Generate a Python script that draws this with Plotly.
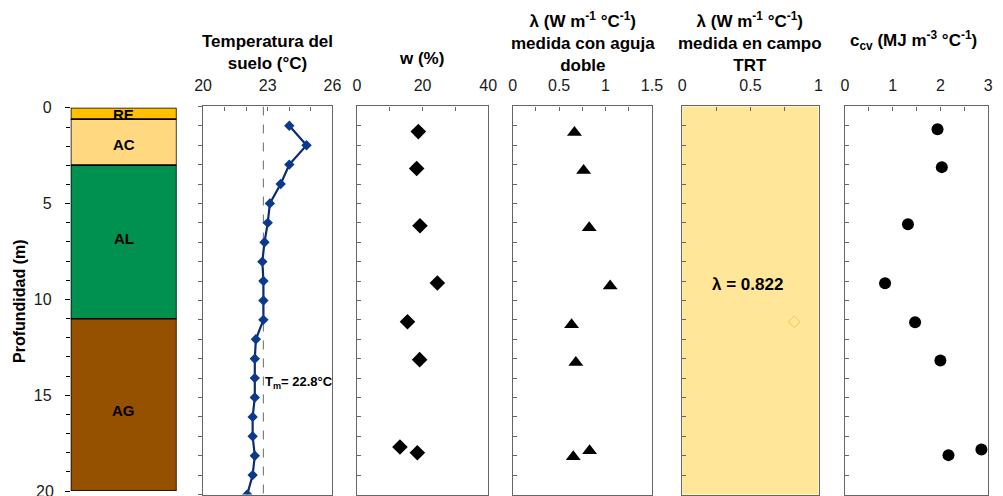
import plotly.graph_objects as go

# ---------------- data ----------------
layer_names = ["RE", "AC", "AL", "AG"]
layer_top = [0.0, 0.6, 3.0, 11.0]
layer_bottom = [0.6, 3.0, 11.0, 20.0]
layer_label_depth = [0.35, 1.9, 6.8, 15.8]
layer_colors = ["#FFC000", "#FFD880", "#00904F", "#955000"]
depth_ticks = [0, 5, 10, 15, 20]

temp_depth = list(range(1, 21))
temp_values = [24.0, 24.8, 24.0, 23.6, 23.1, 23.0, 22.85, 22.75, 22.8, 22.8,
               22.8, 22.45, 22.4, 22.4, 22.4, 22.3, 22.3, 22.4, 22.3, 22.05]
T_M = 22.8

w_depth = [1.3, 3.2, 6.15, 9.1, 11.1, 13.05, 17.55, 17.85]
w_values = [18.7, 18.2, 19.2, 24.5, 15.4, 19.1, 13.1, 18.4]

lam_depth = [1.35, 3.3, 6.25, 9.25, 11.25, 13.2, 17.75, 18.05]
lam_values = [0.665, 0.764, 0.824, 1.05, 0.634, 0.68, 0.828, 0.652]

LAMBDA_TRT = 0.822
trt_depth = [11.1]

ccv_depth = [1.18, 3.13, 6.07, 9.11, 11.12, 13.09, 17.68, 17.97]
ccv_values = [1.94, 2.03, 1.32, 0.84, 1.47, 2.0, 2.86, 2.17]

# ---------------- layout helpers ----------------
W, H = 1003, 496
def px_x(a, b):
    return [a / W, b / W]
def px_y(top, bottom):
    return [1 - bottom / H, 1 - top / H]

FONT = "Liberation Sans, Arial, sans-serif"
FRAME = "#666666"
tickfont = dict(size=16, color="#1a1a1a", family=FONT)

fig = go.Figure()

# stratigraphy column
for name, top, bot, col in zip(layer_names, layer_top, layer_bottom, layer_colors):
    fig.add_trace(go.Bar(x=[0], y=[bot - top], base=[top], width=1.0,
                         marker=dict(color=col, line=dict(color="black", width=1.5)),
                         xaxis="x", yaxis="y", showlegend=False, hoverinfo="skip"))
for name, d in zip(layer_names, layer_label_depth):
    fig.add_annotation(x=0, y=d, xref="x", yref="y", text="<b>" + name + "</b>",
                       showarrow=False, font=dict(size=15, color="black", family=FONT))
# last depth label sits on the figure's bottom edge (partly cut, as in the original)
fig.add_annotation(x=48 / W, y=depth_ticks[-1], xref="paper", yref="y",
                   text=str(depth_ticks[-1]), showarrow=False,
                   xanchor="right", yanchor="middle", font=tickfont)

# temperature
fig.add_trace(go.Scatter(x=[T_M, T_M], y=[0, 20], mode="lines",
                         line=dict(color="#7f7f7f", width=1.2, dash="dash"),
                         xaxis="x2", yaxis="y2", showlegend=False))
fig.add_trace(go.Scatter(x=temp_values, y=temp_depth, mode="lines+markers",
                         line=dict(color="#0B2C74", width=2.2),
                         marker=dict(symbol="diamond", size=8, color="#0B3A8C"),
                         xaxis="x2", yaxis="y2", showlegend=False))
fig.add_annotation(x=T_M, y=14.25, xref="x2", yref="y2", xanchor="left", xshift=0,
                   text="<b>T<sub>m</sub>= %.1f°C</b>" % T_M, showarrow=False,
                   font=dict(size=13, color="black", family=FONT))

# w
fig.add_trace(go.Scatter(x=w_values, y=w_depth, mode="markers",
                         marker=dict(symbol="diamond", size=12, color="black"),
                         xaxis="x3", yaxis="y3", showlegend=False))
# lambda needle
fig.add_trace(go.Scatter(x=lam_values, y=lam_depth, mode="markers",
                         marker=dict(symbol="triangle-up", size=13, color="black"),
                         xaxis="x4", yaxis="y4", showlegend=False))
# TRT
fig.add_shape(type="rect", xref="x5 domain", yref="y5 domain", x0=0, x1=1, y0=0, y1=1,
              fillcolor="#FFE699", line=dict(width=0), layer="below")
fig.add_trace(go.Scatter(x=[LAMBDA_TRT] * len(trt_depth), y=trt_depth, mode="markers",
                         marker=dict(symbol="diamond-open", size=9, color="#EAC864",
                                     line=dict(width=1)),
                         xaxis="x5", yaxis="y5", showlegend=False))
fig.add_annotation(x=0.475, y=9.2, xref="x5", yref="y5",
                   text="<b>λ = %.3f</b>" % LAMBDA_TRT, showarrow=False,
                   font=dict(size=17, color="black", family=FONT))
# ccv
fig.add_trace(go.Scatter(x=ccv_values, y=ccv_depth, mode="markers",
                         marker=dict(symbol="circle", size=12, color="black"),
                         xaxis="x6", yaxis="y6", showlegend=False))

# axes
panels = [
    # (domain px, range, dtick major, minor)
    ((198, 330), [20, 26], 3, 1),
    ((355, 489), [0, 40], 20, 10),
    ((514, 656), [0, 1.5], 0.5, 0.25),
    ((687, 826), [0, 1], 0.5, 0.25),
    ((853, 999), [0, 3], 1, 0.5),
]
lay = dict(
    width=W, height=H, margin=dict(l=0, r=0, t=0, b=0),
    paper_bgcolor="white", plot_bgcolor="rgba(0,0,0,0)",
    barmode="overlay", font=dict(family=FONT),
    xaxis=dict(domain=px_x(63, 171), range=[-0.5, 0.5], visible=False),
    yaxis=dict(domain=px_y(101.5, 491), range=[20, 0], anchor="x",
               showline=False, zeroline=False, showgrid=False,
               ticks="outside", ticklen=5, tickcolor="black", tickwidth=1,
               tickvals=depth_ticks, tickfont=tickfont, ticklabelstandoff=10,
               minor=dict(dtick=1, ticks="outside", ticklen=4, tickcolor="black")),
)
for i, ((a, b), rng, dt, mdt) in enumerate(panels, start=2):
    lay["xaxis%d" % i] = dict(domain=px_x(a, b), range=rng, anchor="y%d" % i, side="top",
                              dtick=dt, tick0=rng[0], ticks="inside", ticklen=4,
                              tickcolor=FRAME, ticklabelstandoff=8,
                              showline=True, mirror=True, linecolor=FRAME, linewidth=1.3,
                              showgrid=False, zeroline=False, tickfont=tickfont,
                              minor=dict(dtick=mdt, tick0=rng[0], ticks="inside", ticklen=4,
                                         tickcolor=FRAME))
    lay["yaxis%d" % i] = dict(domain=px_y(100, 494.5), range=[20, 0], anchor="x%d" % i,
                              dtick=1, tick0=0, ticks="outside" if i == 2 else "inside",
                              ticklen=4, tickcolor=FRAME, showticklabels=False,
                              showline=True, mirror=True, linecolor=FRAME, linewidth=1.3,
                              showgrid=False, zeroline=False)
fig.update_layout(**lay)

# titles
titles = [
    (264, 45, "<b>Temperatura del<br>suelo (°C)</b>"),
    (421, 51, "<b>w (%)</b>"),
    (586, 35, "<b>λ (W m<sup>-1</sup> °C<sup>-1</sup>)<br>medida con aguja<br>doble</b>"),
    (756, 35, "<b>λ (W m<sup>-1</sup> °C<sup>-1</sup>)<br>medida en campo<br>TRT</b>"),
    (923, 33, "<b>c<sub>cv</sub> (MJ m<sup>-3</sup> °C<sup>-1</sup>)</b>"),
]
for x, y, t in titles:
    fig.add_annotation(x=x / W, y=1 - y / H, xref="paper", yref="paper", text=t,
                       showarrow=False, xanchor="center", yanchor="middle",
                       font=dict(size=17, color="black", family=FONT))
fig.add_annotation(x=10 / W, y=1 - 298 / H, xref="paper", yref="paper",
                   text="<b>Profundidad (m)</b>", textangle=-90, showarrow=False,
                   xanchor="center", yanchor="middle",
                   font=dict(size=16, color="black", family=FONT))

fig.write_html("out.html", config={"displayModeBar": False},
               post_script="document.body.style.margin='0';"
                           "document.body.style.overflow='hidden';")
